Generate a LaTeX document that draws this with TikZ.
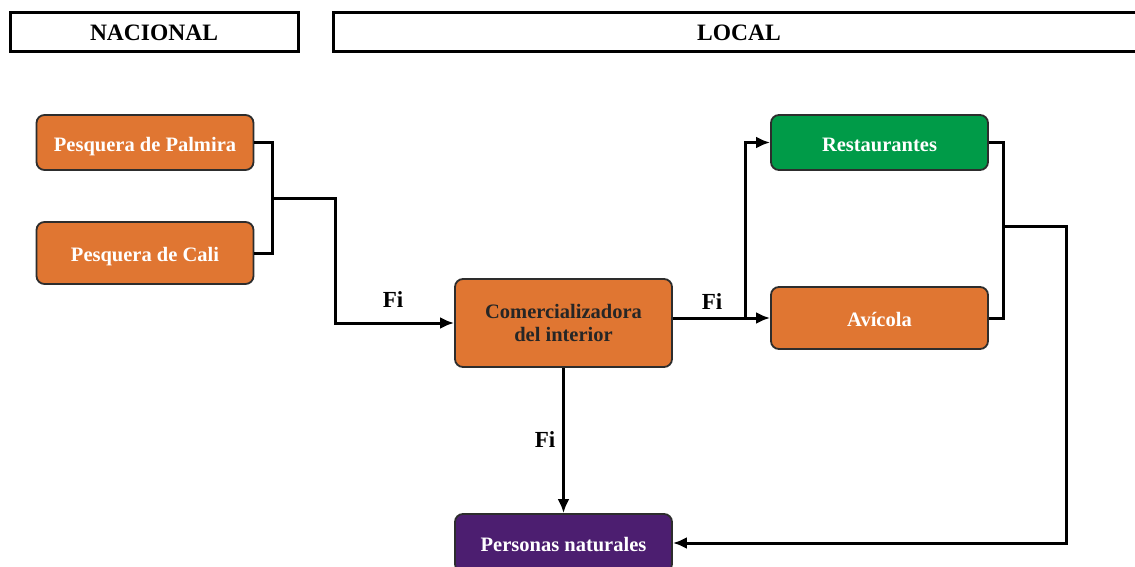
\documentclass[tikz,border=0pt]{standalone}
\usepackage{fontspec}
\setmainfont{Liberation Serif}
\usetikzlibrary{arrows.meta}

\definecolor{naranja}{RGB}{224,118,50}
\definecolor{verde}{RGB}{0,155,72}
\definecolor{morado}{RGB}{76,30,112}
\definecolor{borde}{RGB}{45,45,45}

\tikzset{
  caja/.style={draw=borde, line width=1.8pt, rounded corners=8pt, fill=naranja,
    text=white, font=\fontsize{20.5}{23}\selectfont\bfseries, align=center,
    minimum width=217pt, inner sep=0pt},
  una/.style={caja, text height=18pt, text depth=1pt},
  zona/.style={draw=black, line width=3pt, fill=white,
    font=\fontsize{23.5}{26}\selectfont\bfseries, minimum height=39pt, inner sep=0pt},
  linea/.style={line width=3pt},
  flecha/.style={line width=3pt, -{Latex[length=14pt,width=12pt]}},
  etiq/.style={font=\fontsize{23}{26}\selectfont\bfseries}
}

\begin{document}
\begin{tikzpicture}[x=1pt,y=-1pt]
\clip (0,0) rectangle (1135,567);

% -------------------------------------------------
% Zonas
% -------------------------------------------------
\node[zona, minimum width=288pt] (nacional) at (154,32.5) {NACIONAL};
\node[zona, minimum width=812pt] (local) at (739,32.5) {};
\node[font=\fontsize{23.5}{26}\selectfont\bfseries] (localtxt) at (739,33) {LOCAL};

% -------------------------------------------------
% Actores
% -------------------------------------------------
\node[una, minimum height=55pt] (palmira) at (145,142.5) {Pesquera de Palmira};
\node[una, minimum height=62pt] (cali) at (145,253) {Pesquera de Cali};
\node[caja, minimum height=88pt, text=black!85] (comer) at (563.5,323) {Comercializadora\\del interior};
\node[una, minimum height=55pt, fill=verde] (rest) at (879.5,142.5) {Restaurantes};
\node[una, minimum height=62pt] (avicola) at (879.5,318) {Avícola};
\node[una, minimum height=58pt, fill=morado] (personas) at (563.5,543) {Personas naturales};

% -------------------------------------------------
% Puntos de union
% -------------------------------------------------
\coordinate (j1) at (272,198);
\coordinate (b1) at (335,198);
\coordinate (m1) at (745,318);
\coordinate (j2) at (1003,226);
\coordinate (b2) at (1066,226);

% -------------------------------------------------
% Flujos
% -------------------------------------------------
\draw[linea] (palmira.east) -| (j1) |- (cali.east);
\draw[flecha] (j1) -- (b1) |- (comer.west);
\draw[flecha] (comer.east |- avicola.west) -- (avicola.west);
\draw[flecha] (m1) |- (rest.west);
\draw[linea] (rest.east) -| (j2) |- (avicola.east);
\draw[flecha] (j2) -- (b2) |- (personas.east);
\draw[flecha] (comer.south) -- (personas.north);

% -------------------------------------------------
% Etiquetas
% -------------------------------------------------
\node[etiq] (fi1) at (393,300) {Fi};
\node[etiq] (fi2) at (712,302) {Fi};
\node[etiq] (fi3) at (545,440) {Fi};

\end{tikzpicture}
\end{document}
